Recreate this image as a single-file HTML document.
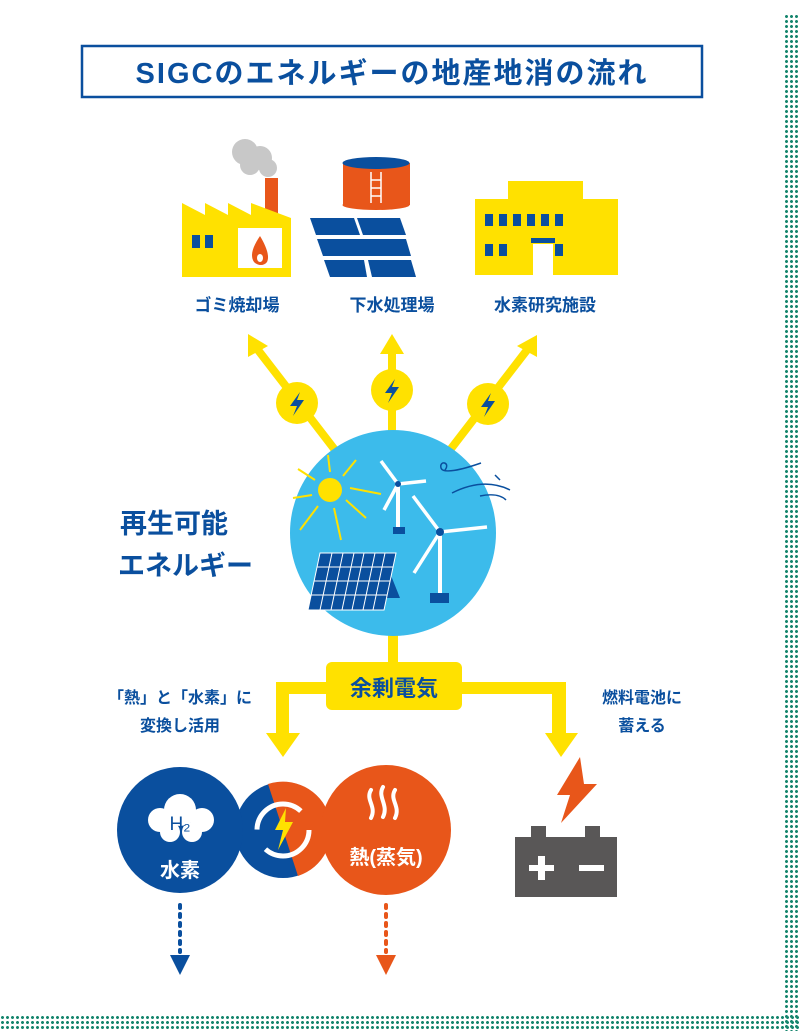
<!DOCTYPE html>
<html><head><meta charset="utf-8"><style>
html,body{margin:0;padding:0;background:#fff;}
body{width:800px;height:1031px;position:relative;overflow:hidden;font-family:"Liberation Sans","Noto Sans CJK JP",sans-serif;}
.dotsR{position:absolute;left:784px;top:14px;width:16px;height:1017px;background-image:radial-gradient(circle,#16866e 1.3px,transparent 1.7px);background-size:5px 5px;}
.dotsB{position:absolute;left:0;top:1015px;width:800px;height:16px;background-image:radial-gradient(circle,#16866e 1.3px,transparent 1.7px);background-size:5px 5px;}
</style></head><body>
<div class="dotsR"></div><div class="dotsB"></div>
<svg width="800" height="1031" style="position:absolute;left:0;top:0" font-family="Liberation Sans, Noto Sans CJK JP, sans-serif" font-weight="bold">
<rect x="82" y="46" width="620" height="51" fill="#fff" stroke="#0a4f9e" stroke-width="2.5"/>
<text x="392" y="83" text-anchor="middle" font-size="29" fill="#0a4f9e" letter-spacing="2">SIGCのエネルギーの地産地消の流れ</text>
<circle cx="245" cy="152" r="13" fill="#c8c8c8"/><circle cx="260" cy="158" r="12" fill="#c8c8c8"/><circle cx="268" cy="168" r="9" fill="#c8c8c8"/><circle cx="250" cy="165" r="10" fill="#c8c8c8"/>
<rect x="265" y="178" width="13" height="36" fill="#e8561a"/>
<polygon points="182,203 205,215 205,203 228,215 228,203 251,215 251,203 291,218 291,277 182,277" fill="#ffe100"/>
<rect x="192" y="235" width="8" height="13" fill="#0a4f9e"/><rect x="205" y="235" width="8" height="13" fill="#0a4f9e"/>
<rect x="238" y="228" width="44" height="40" fill="#fff"/>
<path d="M260,236 C252,248 250,256 254,262 C258,266 264,266 267,262 C270,256 266,246 260,236Z" fill="#e8561a"/><ellipse cx="260" cy="258" rx="3" ry="4" fill="#fff"/>
<rect x="343" y="163" width="67" height="42" fill="#e8561a"/><ellipse cx="376" cy="205" rx="33.5" ry="5" fill="#e8561a"/><ellipse cx="376" cy="163" rx="33.5" ry="6" fill="#0a4f9e"/>
<line x1="371" y1="172" x2="371" y2="203" stroke="#fff" stroke-width="1.5"/><line x1="381" y1="172" x2="381" y2="203" stroke="#fff" stroke-width="1.5"/>
<line x1="371" y1="180" x2="381" y2="180" stroke="#fff" stroke-width="1.5"/><line x1="371" y1="188" x2="381" y2="188" stroke="#fff" stroke-width="1.5"/><line x1="371" y1="196" x2="381" y2="196" stroke="#fff" stroke-width="1.5"/>
<polygon points="310,218 354,218 360,235 316,235" fill="#0a4f9e"/><polygon points="357,218 400,218 406,235 363,235" fill="#0a4f9e"/>
<polygon points="317,239 406,239 411,256 323,256" fill="#0a4f9e"/>
<polygon points="324,260 364,260 367,277 330,277" fill="#0a4f9e"/><polygon points="368,260 411,260 416,277 372,277" fill="#0a4f9e"/>
<rect x="508" y="181" width="75" height="20" fill="#ffe100"/><rect x="475" y="199" width="143" height="76" fill="#ffe100"/>
<g fill="#0a4f9e"><rect x="485" y="214" width="8" height="12"/><rect x="499" y="214" width="8" height="12"/><rect x="513" y="214" width="8" height="12"/><rect x="527" y="214" width="8" height="12"/><rect x="541" y="214" width="8" height="12"/><rect x="555" y="214" width="8" height="12"/>
<rect x="485" y="244" width="8" height="12"/><rect x="499" y="244" width="8" height="12"/><rect x="541" y="244" width="8" height="12"/><rect x="555" y="244" width="8" height="12"/><rect x="531" y="238" width="24" height="5"/></g>
<rect x="533" y="244" width="20" height="31" fill="#fff"/>
<g font-size="17" fill="#0a4f9e" text-anchor="middle"><text x="237" y="311">ゴミ焼却場</text><text x="392" y="311">下水処理場</text><text x="545" y="311">水素研究施設</text></g>
<g stroke="#ffe100" stroke-width="8" fill="none"><line x1="258" y1="350" x2="335" y2="450"/><line x1="392" y1="350" x2="392" y2="440"/><line x1="527" y1="350" x2="450" y2="450"/></g>
<g fill="#ffe100"><polygon points="248,334 248,357 268,346"/><polygon points="392,334 380,354 404,354"/><polygon points="537,335 517,346 537,357"/>
<circle cx="297" cy="403" r="21"/><circle cx="392" cy="390" r="21"/><circle cx="488" cy="404" r="21"/></g>
<g fill="#0a4f9e"><polygon points="300,392 290,406 297,406 293,416 304,400 297,400"/><polygon points="395,379 385,393 392,393 388,403 399,387 392,387"/><polygon points="491,393 481,407 488,407 484,417 495,401 488,401"/></g>
<rect x="388" y="620" width="10" height="45" fill="#ffe100"/>
<circle cx="393" cy="533" r="103" fill="#3cbbeb"/>
<circle cx="330" cy="490" r="12" fill="#ffe100"/>
<g stroke="#ffe100" stroke-width="2"><line x1="330" y1="472" x2="328" y2="455"/><line x1="343" y1="476" x2="356" y2="460"/><line x1="350" y1="488" x2="381" y2="494"/><line x1="346" y1="500" x2="366" y2="518"/><line x1="334" y1="508" x2="341" y2="540"/><line x1="318" y1="506" x2="300" y2="530"/><line x1="312" y1="495" x2="293" y2="498"/><line x1="315" y1="480" x2="298" y2="469"/></g>
<g stroke="#fff" stroke-width="4" fill="none"><line x1="398" y1="484" x2="398" y2="528"/><line x1="440" y1="532" x2="440" y2="596"/></g>
<g stroke="#fff" stroke-width="3.5"><line x1="398" y1="484" x2="381" y2="461"/><line x1="398" y1="484" x2="426" y2="481"/><line x1="398" y1="484" x2="384" y2="510"/><line x1="440" y1="532" x2="413" y2="496"/><line x1="440" y1="532" x2="487" y2="527"/><line x1="440" y1="532" x2="414" y2="573"/></g>
<circle cx="398" cy="484" r="3" fill="#0a4f9e"/><circle cx="440" cy="532" r="4" fill="#0a4f9e"/>
<rect x="393" y="527" width="12" height="7" fill="#0a4f9e"/><rect x="430" y="593" width="19" height="10" fill="#0a4f9e"/>
<g stroke="#0a4f9e" stroke-width="1.5" fill="none"><path d="M445,470 c6,-8 -6,-10 -4,-2 c2,6 20,2 40,-5"/><path d="M452,493 c20,-10 40,-12 58,-3"/><path d="M480,496 c10,-2 20,-2 26,4"/><line x1="495" y1="475" x2="500" y2="480"/></g>
<polygon points="382,553 400,598 380,598" fill="#0a4f9e"/>
<polygon points="320,553 396,553 384,610 308,610" fill="#0a4f9e" stroke="#fff" stroke-width="1"/>
<g stroke="#fff" stroke-width="1"><line x1="332" y1="553" x2="320" y2="610"/><line x1="343" y1="553" x2="331" y2="610"/><line x1="354" y1="553" x2="342" y2="610"/><line x1="364" y1="553" x2="352" y2="610"/><line x1="375" y1="553" x2="363" y2="610"/><line x1="385" y1="553" x2="373" y2="610"/><line x1="317" y1="567" x2="393" y2="567"/><line x1="314" y1="581" x2="390" y2="581"/><line x1="311" y1="595" x2="387" y2="595"/></g>
<g font-size="27" fill="#0a4f9e"><text x="120" y="533">再生可能</text><text x="118" y="575">エネルギー</text></g>
<g fill="#ffe100"><rect x="276" y="682" width="180" height="12"/><rect x="400" y="682" width="166" height="12"/><rect x="276" y="682" width="13" height="55"/><rect x="552" y="682" width="14" height="55"/>
<polygon points="266,733 300,733 283,757"/><polygon points="545,733 578,733 561,757"/>
<rect x="326" y="662" width="136" height="48" rx="6"/></g>
<text x="394" y="696" text-anchor="middle" font-size="22" fill="#0a4f9e">余剰電気</text>
<g font-size="16" fill="#0a4f9e" text-anchor="middle"><text x="180" y="703">「熱」と「水素」に</text><text x="180" y="731">変換し活用</text><text x="642" y="703">燃料電池に</text><text x="642" y="731">蓄える</text></g>
<circle cx="283" cy="830" r="48" fill="#0a4f9e"/>
<path d="M268,784 A48,48 0 0 1 298,876 Z" fill="#e8561a"/>
<circle cx="283" cy="830" r="26" fill="none" stroke="#fff" stroke-width="5" stroke-dasharray="60 22"/>
<polygon points="286,808 275,830 283,830 278,850 293,822 285,822" fill="#ffe100"/>
<circle cx="180" cy="830" r="63" fill="#0a4f9e"/>
<circle cx="386" cy="830" r="65" fill="#e8561a"/>
<g fill="#fff"><circle cx="180" cy="810" r="16"/><circle cx="160" cy="820" r="12"/><circle cx="202" cy="820" r="12"/><circle cx="170" cy="832" r="10"/><circle cx="192" cy="832" r="10"/></g>
<text x="180" y="830" text-anchor="middle" font-size="19" fill="#0a4f9e" font-weight="normal">H₂</text>
<text x="180" y="877" text-anchor="middle" font-size="20" fill="#fff">水素</text>
<g stroke="#fff" stroke-width="4" fill="none" stroke-linecap="round"><path d="M371,790 c-6,10 6,16 0,28"/><path d="M383,787 c-6,10 6,18 0,30"/><path d="M395,790 c-6,10 6,16 0,28"/></g>
<text x="386" y="864" text-anchor="middle" font-size="20" fill="#fff">熱(蒸気)</text>
<line x1="180" y1="905" x2="180" y2="952" stroke="#0a4f9e" stroke-width="4" stroke-dasharray="3 6" stroke-linecap="round"/>
<polygon points="170,955 190,955 180,975" fill="#0a4f9e"/>
<line x1="386" y1="905" x2="386" y2="952" stroke="#e8561a" stroke-width="4" stroke-dasharray="3 6" stroke-linecap="round"/>
<polygon points="376,955 396,955 386,975" fill="#e8561a"/>
<polygon points="580,757 557,795 570,795 561,823 597,784 584,784" fill="#e8561a"/>
<rect x="531" y="826" width="15" height="12" fill="#595757"/><rect x="585" y="826" width="15" height="12" fill="#595757"/>
<rect x="515" y="837" width="102" height="60" fill="#595757"/>
<rect x="529" y="865" width="25" height="6" fill="#fff"/><rect x="538" y="856" width="7" height="24" fill="#fff"/><rect x="579" y="865" width="25" height="6" fill="#fff"/>
</svg>
</body></html>
